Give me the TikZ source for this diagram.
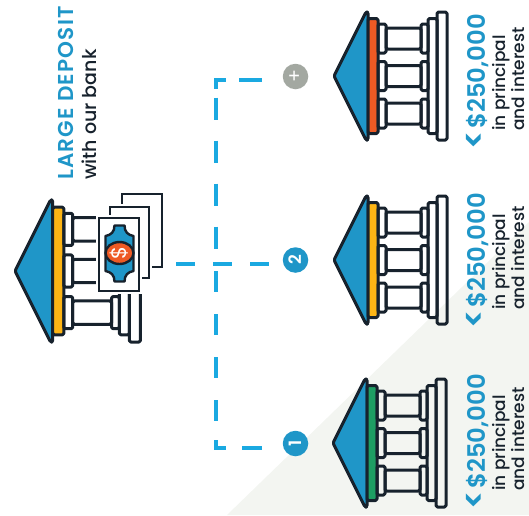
\documentclass[tikz,border=0pt]{standalone}
\usepackage{fontspec}
\setmainfont{Poppins}
\newfontfamily\semifont{Poppins}[UprightFont=* SemiBold]
\newfontfamily\titlefont{Poppins}[UprightFont=* SemiBold, LetterSpace=5.5]
\newfontfamily\notefont{Poppins}[UprightFont=* Medium]
\usetikzlibrary{arrows.meta, positioning, calc, shapes.geometric}
\definecolor{bkInk}{HTML}{17222D}
\definecolor{bkBlue}{HTML}{1F96C8}
\definecolor{bkDash}{HTML}{1AA9E1}
\definecolor{bkOrange}{HTML}{EE5A24}
\definecolor{bkYellow}{HTML}{FDB515}
\definecolor{bkGreen}{HTML}{1E9E63}
\definecolor{bkGrey}{HTML}{A3A8A1}
\definecolor{bkShade}{HTML}{F3F5F1}
\newcommand{\lessmark}{{\fontsize{33}{33}\selectfont <}\kern2pt}
\tikzset{
  bankline/.style={draw=bkInk, line width=3pt, rounded corners=1.5pt, line join=round},
  billbox/.style={draw=bkInk, line width=2.4pt, fill=white, inner sep=0pt,
    preaction={draw=white, line width=5.5pt}},
  coinmark/.style={ellipse, draw=bkInk, line width=2.4pt, fill=bkOrange, text=white, inner sep=0pt,
    minimum width=22pt, minimum height=28pt, font=\fontsize{21}{21}\selectfont},
  stepdot/.style={circle, fill=bkBlue, text=white, inner sep=0pt, minimum size=25.5pt,
    font=\fontsize{17}{17}\selectfont\semifont},
  plusdot/.style={stepdot, fill=bkGrey, font=\fontsize{19}{19}\selectfont},
  flow/.style={draw=bkDash, line width=4pt},
  amount/.style={rotate=90, anchor=base west, inner sep=0pt, text=bkBlue,
    font=\fontsize{24.3}{24.3}\selectfont\semifont},
  note/.style={rotate=90, anchor=base west, inner sep=0pt, text=bkInk,
    font=\fontsize{17}{17}\selectfont\notefont},
  bankicon/.pic={
    \path[bankline, fill=bkBlue] (0,0) -- (32,-64) -- (34,-64) -- (34,64) -- (32,64) -- cycle;
    \path[bankline, fill=#1] (34,-57.5) rectangle (44,57.5);
    \path[bankline] (94,-57.5) rectangle (103,57.5);
    \path[bankline] (103,-64) rectangle (113,64);
    \foreach \dy in {-37.5,0,37.5} {
      \path[bankline] (52,\dy-10.5) rectangle (87,\dy+10.5);
      \path[bankline] (44,\dy-14.5) rectangle (52,\dy+14.5);
      \path[bankline] (87,\dy-14.5) rectangle (94,\dy+14.5);
    }
  },
}
\begin{document}
\begin{tikzpicture}[x=1pt, y=-1pt]
  \useasboundingbox (0,0) rectangle (529,515);
  \fill[bkShade] (529,222) -- (529,515) -- (227,515) -- cycle;

  % large deposit
  \node[amount, font=\fontsize{21.5}{21.5}\selectfont\titlefont] (deposit) at (73,180) {LARGE DEPOSIT};
  \node[note, font=\fontsize{19}{19}\selectfont\notefont] (ourbank) at (96,180) {with our bank};
  \pic[scale=1.11] at (15,271) {bankicon=bkYellow};
  \node[billbox, minimum width=40pt, minimum height=73pt] (billc) at (142,230.5) {};
  \node[billbox, minimum width=39pt, minimum height=71pt] (billb) at (129.5,242.5) {};
  \node[billbox, minimum width=40pt, minimum height=73pt] (billa) at (119,254.5) {};
  \path[draw=bkInk, line width=2.4pt, fill=bkBlue, line join=round]
    (114.5,225.5) -- (124.5,225.5) .. controls (124.5,232) and (128,235) .. (133.5,236)
    -- (133.5,271) .. controls (128,272) and (124.5,275) .. (124.5,281.5)
    -- (114.5,281.5) .. controls (114.5,275) and (111,272) .. (105.5,271)
    -- (105.5,236) .. controls (111,235) and (114.5,232) .. (114.5,225.5) -- cycle;
  \node[coinmark, rotate=90] (coin) at (119.5,253) {\$};

  % three banks
  \pic at (334,76) {bankicon=bkOrange};
  \pic at (334,260) {bankicon=bkYellow};
  \pic at (333,443) {bankicon=bkGreen};

  \node[plusdot, rotate=90] (stepplus) at (295.5,76.5) {+};
  \node[stepdot, rotate=90] (steptwo) at (295.5,260) {2};
  \node[stepdot, rotate=90] (stepone) at (295.5,443.5) {1};

  \node[amount] (amountc) at (485,150) {\lessmark\$250,000};
  \node[note] (notec) at (505,131) {in principal};
  \node[note] (notecc) at (524.5,131) {and interest};
  \node[amount] (amountb) at (485,329) {\lessmark\$250,000};
  \node[note] (noteb) at (505,310) {in principal};
  \node[note] (notebb) at (524.5,310) {and interest};
  \node[amount] (amounta) at (485,510) {\lessmark\$250,000};
  \node[note] (notea) at (505,491) {in principal};
  \node[note] (noteaa) at (524.5,491) {and interest};

  % dashed tree
  \coordinate (midstart) at (176,264);
  \coordinate (midend) at (270,264);
  \coordinate (fork) at (215.5,264);
  \coordinate (topend) at (261.5,79.5);
  \coordinate (topcorner) at (215.5,79.5);
  \coordinate (lowend) at (261.5,447.5);
  \coordinate (lowcorner) at (215.5,447.5);
  \draw[flow, dash pattern=on 19pt off 18pt] (midstart) -- (midend);
  \draw[flow, dash pattern=on 23pt off 13pt on 19pt off 9pt on 22pt off 21pt on 22pt off 21pt on 22pt off 21pt on 22pt off 40pt]
    (topend) -- (topcorner) -- (fork);
  \draw[flow, dash pattern=on 20pt off 16pt on 18pt off 19pt on 21pt off 22pt on 21pt off 22pt on 21pt off 22pt on 21pt off 40pt]
    (lowend) -- (lowcorner) -- (fork);
\end{tikzpicture}
\end{document}
